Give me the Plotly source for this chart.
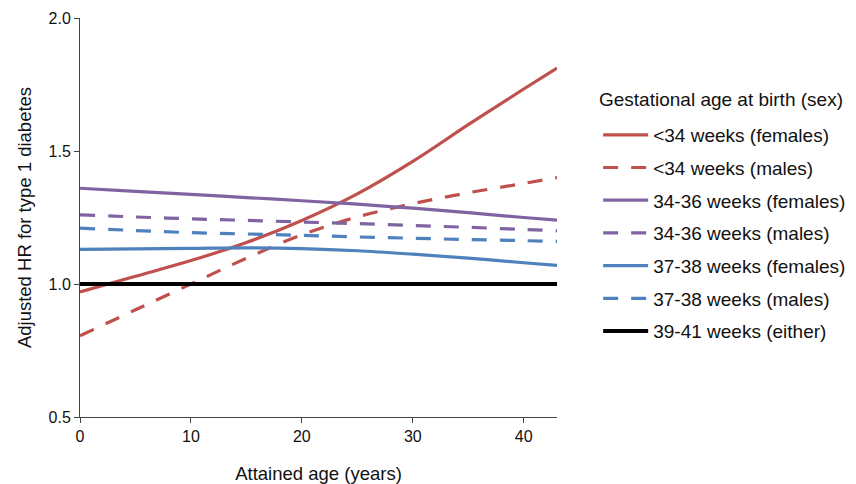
import plotly.graph_objects as go

age = [0, 5, 10, 15, 20, 25, 30, 35, 40, 43]

series_names = [
    "<34 weeks (females)",
    "<34 weeks (males)",
    "34-36 weeks (females)",
    "34-36 weeks (males)",
    "37-38 weeks (females)",
    "37-38 weeks (males)",
    "39-41 weeks (either)",
]
lt34_f = [0.970, 1.029, 1.088, 1.156, 1.239, 1.339, 1.461, 1.599, 1.733, 1.812]
lt34_m = [0.805, 0.903, 1.000, 1.097, 1.185, 1.252, 1.302, 1.343, 1.378, 1.400]
w3436_f = [1.360, 1.348, 1.337, 1.325, 1.313, 1.300, 1.285, 1.268, 1.250, 1.240]
w3436_m = [1.260, 1.252, 1.245, 1.239, 1.233, 1.227, 1.220, 1.213, 1.205, 1.200]
w3738_f = [1.130, 1.132, 1.134, 1.136, 1.133, 1.125, 1.112, 1.097, 1.080, 1.070]
w3738_m = [1.210, 1.201, 1.193, 1.188, 1.183, 1.177, 1.172, 1.167, 1.163, 1.160]
w3941 = [1.0, 1.0, 1.0, 1.0, 1.0, 1.0, 1.0, 1.0, 1.0, 1.0]

legend_title = "Gestational age at birth (sex)"
x_title = "Attained age (years)"
y_title = "Adjusted HR for type 1 diabetes"
x_ticks = [0, 10, 20, 30, 40]
y_ticks = [0.5, 1.0, 1.5, 2.0]
y_ticktext = ["0.5", "1.0", "1.5", "2.0"]

values = [lt34_f, lt34_m, w3436_f, w3436_m, w3738_f, w3738_m, w3941]
colors = ["#c0504d", "#c0504d", "#8064a2", "#8064a2", "#4f81bd", "#4f81bd", "#000000"]
dashes = ["solid", "15px,13px", "solid", "15px,13px", "solid", "15px,13px", "solid"]
widths = [3.2, 3.2, 3.2, 3.2, 3.2, 3.2, 4]

font = "Liberation Sans, Arial, Helvetica, sans-serif"

fig = go.Figure()
for name, vals, c, d, w in zip(series_names, values, colors, dashes, widths):
    fig.add_trace(go.Scatter(
        x=age, y=vals, mode="lines", name=name,
        line=dict(color=c, dash=d, width=w, shape="spline", smoothing=1.0),
        legendgroup=name,
    ))

fig.add_annotation(
    text=legend_title, xref="paper", yref="paper",
    x=1.084, y=0.7945, xanchor="left", yanchor="middle",
    showarrow=False, font=dict(size=19, color="#111111"),
)

fig.update_layout(
    width=856, height=484,
    margin=dict(l=80, r=299, t=18, b=67, autoexpand=False),
    paper_bgcolor="white", plot_bgcolor="white",
    font=dict(family=font, color="#111111", size=18.5),
    showlegend=True,
    legend=dict(
        x=1.0863, xanchor="left", y=0.7545, yanchor="top",
        font=dict(size=19),
        tracegroupgap=5,
        itemwidth=45,
        bgcolor="rgba(0,0,0,0)",
    ),
    xaxis=dict(
        range=[0, 43], tickvals=x_ticks,
        showgrid=False, zeroline=False, automargin=False,
        showline=True, linecolor="#444444", linewidth=1,
        ticks="outside", ticklen=5, tickcolor="#444444",
        tickfont=dict(size=16),
        title=dict(text=x_title, font=dict(size=18.5), standoff=22),
    ),
    yaxis=dict(
        range=[0.5, 2.0], tickvals=y_ticks, ticktext=y_ticktext,
        showgrid=False, zeroline=False, automargin=False,
        showline=True, linecolor="#444444", linewidth=1,
        ticks="outside", ticklen=5, tickcolor="#444444",
        tickfont=dict(size=16),
        title=dict(text=y_title, font=dict(size=18.5), standoff=12),
    ),
)

fig.write_html("out.html")
